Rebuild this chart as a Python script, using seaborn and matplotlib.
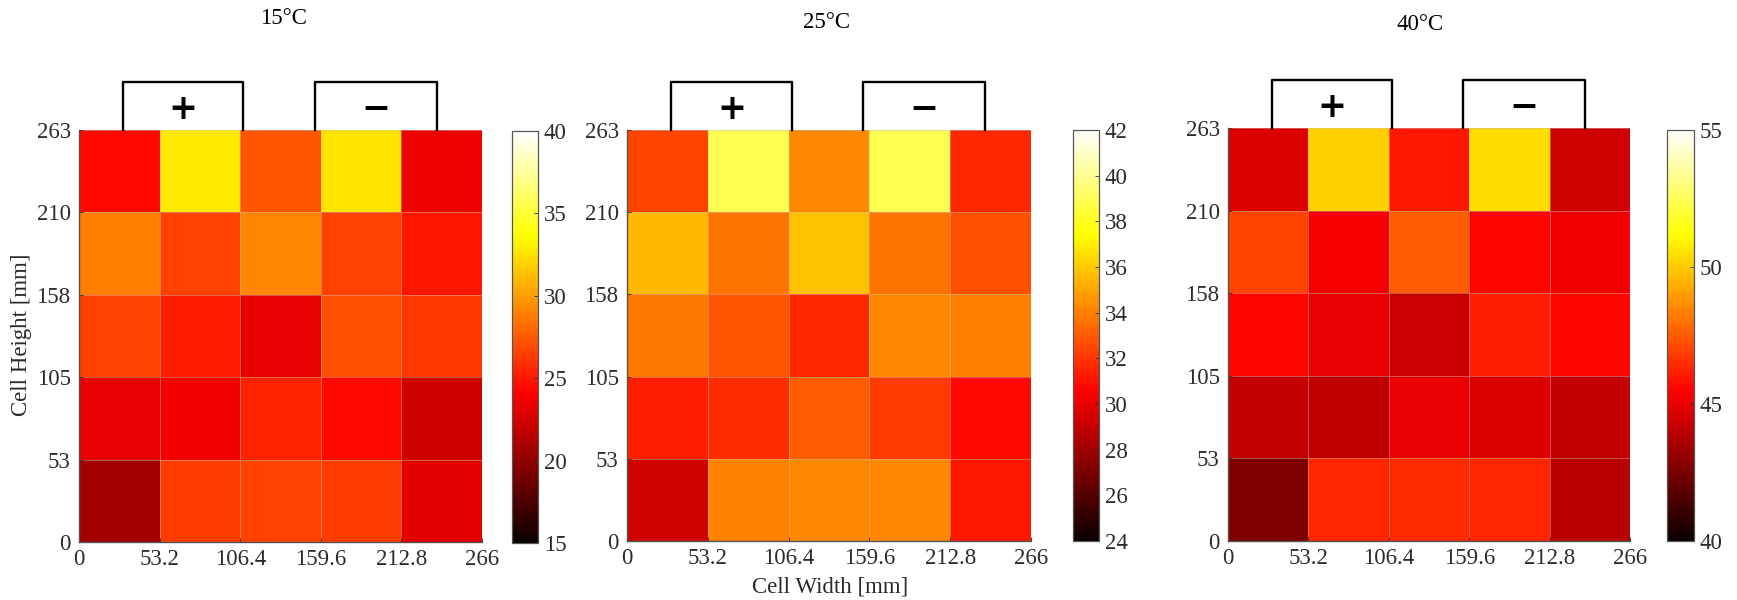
import numpy as np
import pandas as pd
import matplotlib
matplotlib.use("Agg")
import matplotlib.pyplot as plt
import seaborn as sns

# ---------------- data ----------------
titles = ["15°C", "25°C", "40°C"]
x_ticklabels = ["0", "53.2", "106.4", "159.6", "212.8", "266"]
y_ticklabels = ["0", "53", "105", "158", "210", "263"]
col_labels = ["0-53.2", "53.2-106.4", "106.4-159.6", "159.6-212.8", "212.8-266"]
row_labels = ["210-263", "158-210", "105-158", "53-105", "0-53"]  # top to bottom

# temperatures (°C), rows listed from top (210-263 mm) to bottom (0-53 mm)
temps_15 = [
    [24.4, 32.8, 27.3, 32.6, 23.5],
    [28.8, 26.6, 29.1, 26.6, 24.9],
    [26.6, 25.2, 23.3, 27.1, 26.2],
    [23.3, 23.6, 25.4, 24.4, 22.3],
    [20.7, 26.4, 26.6, 26.4, 23.1],
]
temps_25 = [
    [32.4, 38.9, 34.2, 38.9, 31.6],
    [35.5, 33.7, 35.8, 33.7, 32.7],
    [33.8, 32.8, 31.6, 34.2, 34.0],
    [31.4, 31.8, 33.0, 32.1, 30.8],
    [29.3, 34.1, 34.2, 34.2, 31.2],
]
temps_40 = [
    [44.7, 50.1, 46.0, 50.4, 44.4],
    [47.0, 45.3, 47.5, 45.6, 45.2],
    [45.6, 45.0, 44.3, 46.2, 45.6],
    [44.2, 44.1, 45.0, 44.7, 44.2],
    [42.6, 46.3, 46.4, 46.3, 43.9],
]
color_limits = [(15, 40), (24, 42), (40, 55)]
cbar_ticks = [
    [15, 20, 25, 30, 35, 40],
    [24, 26, 28, 30, 32, 34, 36, 38, 40, 42],
    [40, 45, 50, 55],
]
terminal_symbols = ["+", "\u2212"]
terminal_mm = [(29.0, 108.5), (155.5, 236.0)]  # terminal tab spans along the width (mm)
cell_width_mm = 53.2

# ---------------- layout ----------------
W, H = 1737, 600
fig = plt.figure(figsize=(W / 100, H / 100), dpi=100)
plt.rcParams["font.family"] = ["Liberation Serif", "DejaVu Serif"]

axes_px = [(79, 130, 482, 542), (627, 130, 1031, 541), (1228, 128, 1630, 541)]
cbar_px = [(512, 131, 538, 543), (1073, 130, 1099, 541), (1667, 130, 1694, 541)]
title_px = [(283, 18), (827, 23), (1420, 25)]

def frac(box):
    l, t, r, b = box
    return [l / W, 1 - b / H, (r - l) / W, (b - t) / H]

tick_color = "#2b2b2b"
fs = 16.5
datasets = [temps_15, temps_25, temps_40]

for i, data in enumerate(datasets):
    ax = fig.add_axes(frac(axes_px[i]))
    cax = fig.add_axes(frac(cbar_px[i]))
    df = pd.DataFrame(data, index=row_labels, columns=col_labels)
    vmin, vmax = color_limits[i]
    sns.heatmap(df, ax=ax, cbar_ax=cax, cmap="hot", vmin=vmin, vmax=vmax,
                linewidths=0.7, linecolor=(0.75, 0.75, 0.75, 0.45),
                xticklabels=False, yticklabels=False)
    n = len(col_labels)
    ax.set_xticks(np.arange(n + 1))
    ax.set_xticklabels(x_ticklabels, fontsize=fs, color=tick_color)
    ax.set_yticks(np.arange(n + 1))
    ax.set_yticklabels(y_ticklabels[::-1], fontsize=fs, color=tick_color, rotation=0)
    ax.tick_params(axis="x", direction="in", length=3, width=0.6, color=tick_color, pad=5)
    ax.tick_params(axis="y", direction="in", length=3, width=0.6, color=tick_color, pad=6)
    for s in ["left", "bottom"]:
        ax.spines[s].set_visible(True)
        ax.spines[s].set_color("#555555")
        ax.spines[s].set_linewidth(1.0)
        ax.spines[s].set_zorder(5)
    ax.set_xlabel("")
    ax.set_ylabel("")

    # terminal tabs above the cell
    h = 0.58
    for sym, (a, b) in zip(terminal_symbols, terminal_mm):
        x0, x1 = a / cell_width_mm, b / cell_width_mm
        ax.plot([x0, x0, x1, x1], [0, -h, -h, 0], color="black", lw=1.7,
                clip_on=False, solid_joinstyle="round")
        ax.text((x0 + x1) / 2, -0.25, sym, ha="center", va="center",
                fontsize=25, fontweight="bold", family="DejaVu Sans", color="black")
    ax.set_xlim(0, n)
    ax.set_ylim(n, 0)

    # colorbar
    cax.set_yticks(cbar_ticks[i])
    cax.set_yticklabels([str(t) for t in cbar_ticks[i]], fontsize=fs, color=tick_color)
    cax.tick_params(direction="in", length=3, width=0.6, color=tick_color, pad=4)
    try:
        cb = ax.collections[0].colorbar
        cb.outline.set_linewidth(0.9)
        cb.outline.set_edgecolor("#555555")
    except Exception:
        pass

    tx, ty = title_px[i]
    fig.text(tx / W, 1 - ty / H, titles[i], ha="center", va="center", fontsize=fs, color="black")

fig.text(22 / W, 1 - 335 / H, "Cell Height [mm]", rotation=90, ha="center", va="center",
         fontsize=fs, color=tick_color)
fig.text(830 / W, 1 - 587 / H, "Cell Width [mm]", ha="center", va="center",
         fontsize=fs, color=tick_color)

fig.savefig("out.png", dpi=100, facecolor="white")
